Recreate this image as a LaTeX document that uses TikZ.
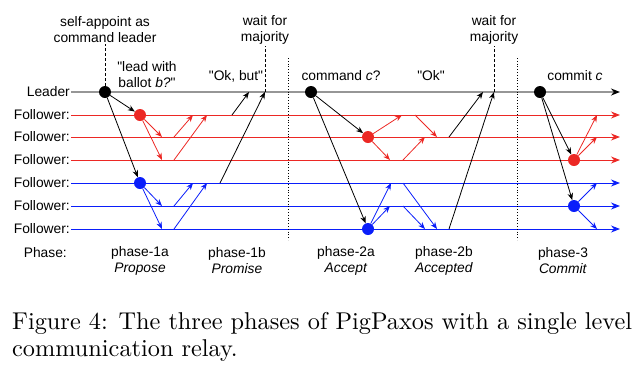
\documentclass[tikz,border=0pt]{standalone}
\usepackage{fontspec}
\newfontfamily\diagfont{Liberation Sans}
\newfontfamily\capfont{lmroman10-regular}[Extension=.otf]
\usetikzlibrary{arrows.meta}
\definecolor{ldrgray}{RGB}{150,150,150}
\definecolor{relred}{RGB}{236,40,36}
\definecolor{relblue}{RGB}{10,30,250}

\begin{document}
\begin{tikzpicture}[x=1pt,y=-1pt,
  font=\diagfont\fontsize{13.8}{16}\selectfont,
  every node/.style={inner sep=1pt},
  lbl/.style={anchor=east},
  txt/.style={align=center},
  dot/.style={circle,fill,inner sep=0pt,minimum size=12pt},
  msg/.style={-{Stealth[length=7pt,width=5.5pt]},line width=0.8pt},
  lane/.style={line width=1pt,-{Stealth[length=9pt,width=7pt]}},
  sep/.style={dotted,line width=0.8pt},
  captext/.style={anchor=base west,font=\capfont\fontsize{24.3}{28}\selectfont}]

\useasboundingbox (0,0) rectangle (640,373);

        \node[lbl] (ld) at (71,92)  {Leader};
        \node[lbl] (f1) at (71,115) {Follower:};
        \node[lbl] (f2) at (71,137) {Follower:};
        \node[lbl] (f3) at (71,160) {Follower:};
        \node[lbl] (f4) at (71,183) {Follower:};
        \node[lbl] (f5) at (71,206) {Follower:};
        \node[lbl] (f6) at (71,229) {Follower:};
        \node[lbl] (ph) at (68,253) {Phase:};

        \coordinate (lde) at (620,92);
        \coordinate (f1e) at (620,115);
        \coordinate (f2e) at (620,137);
        \coordinate (f3e) at (620,160);
        \coordinate (f4e) at (620,183);
        \coordinate (f5e) at (620,206);
        \coordinate (f6e) at (620,229);

        \draw[lane,ldrgray,line width=1.6pt,-{Stealth[length=9pt,width=7pt,black]}] (ld) -- (lde);
        \draw[lane,relred] (f1) -- (f1e);
        \draw[lane,relred] (f2) -- (f2e);
        \draw[lane,relred] (f3) -- (f3e);
        \draw[lane,relblue] (f4) -- (f4e);
        \draw[lane,relblue] (f5) -- (f5e);
        \draw[lane,relblue] (f6) -- (f6e);

        \coordinate (s1t) at (288,58);
        \coordinate (s1b) at (288,240);
        \coordinate (s2t) at (517,58);
        \coordinate (s2b) at (517,240);
        \draw[sep] (s1t) -- (s1b);
        \draw[sep] (s2t) -- (s2b);

        \node[txt] (sa)  at (105,30) {self-appoint as\\command leader};
        \node[txt] (lb)  at (147,75) {"lead with\\ballot \textit{b?}"};
        \node      (ok1) at (236,76) {"Ok, but"};
        \node[txt] (wm1) at (265,30) {wait for\\majority};
        \node      (cc)  at (341,76) {command \textit{c}?};
        \node      (ok2) at (431,76) {"Ok"};
        \node[txt] (wm2) at (494,30) {wait for\\majority};
        \node      (cm)  at (575,76) {commit \textit{c}};

        \node[txt] (p1a) at (140,261) {phase-1a\\\textit{Propose}};
        \node[txt] (p1b) at (237,261) {phase-1b\\\textit{Promise}};
        \node[txt] (p2a) at (346,261) {phase-2a\\\textit{Accept}};
        \node[txt] (p2b) at (444,261) {phase-2b\\\textit{Accepted}};
        \node[txt] (p3)  at (563,261) {phase-3\\\textit{Commit}};

        \node[dot]         (l1) at (105,92)  {};
        \node[dot,relred]  (r1) at (140,115) {};
        \node[dot,relblue] (b1) at (140,183) {};
        \node[dot]         (l2) at (311,92)  {};
        \node[dot,relred]  (r2) at (368,137) {};
        \node[dot,relblue] (b2) at (368,229) {};
        \node[dot]         (l3) at (540,92)  {};
        \node[dot,relred]  (r3) at (574,160) {};
        \node[dot,relblue] (b3) at (574,206) {};

        \coordinate (w1) at (265,92);
        \coordinate (w2) at (494,92);
        \draw[dash pattern=on 3pt off 2pt] (l1) -- (sa);
        \draw[dash pattern=on 3pt off 2pt] (w1) -- (wm1);
        \draw[dash pattern=on 3pt off 2pt] (w2) -- (wm2);

        \coordinate (r1x) at (162,137);
        \coordinate (r1y) at (162,160);
        \coordinate (b1x) at (162,206);
        \coordinate (b1y) at (162,229);
        \draw (l1) edge[msg] (r1);
        \draw (l1) edge[msg] (b1);
        \draw (r1) edge[msg,relred] (r1x);
        \draw (r1) edge[msg,relred] (r1y);
        \draw (b1) edge[msg,relblue] (b1x);
        \draw (b1) edge[msg,relblue] (b1y);

        \coordinate (q1) at (174,137);
        \coordinate (q2) at (174,160);
        \coordinate (q3) at (193,115);
        \coordinate (q4) at (207,115);
        \coordinate (q5) at (174,206);
        \coordinate (q6) at (174,229);
        \coordinate (q7) at (193,183);
        \coordinate (q8) at (207,183);
        \coordinate (q9) at (232,115);
        \coordinate (q10) at (249,92);
        \coordinate (q11) at (220,183);
        \draw (q1) edge[msg,relred] (q3);
        \draw (q2) edge[msg,relred] (q4);
        \draw (q5) edge[msg,relblue] (q7);
        \draw (q6) edge[msg,relblue] (q8);
        \draw (q9) edge[msg] (q10);
        \draw (q11) edge[msg] (w1);

        \coordinate (r2x) at (402,115);
        \coordinate (r2y) at (390,160);
        \coordinate (b2x) at (391,183);
        \coordinate (b2y) at (390,206);
        \draw (l2) edge[msg] (r2);
        \draw (l2) edge[msg] (b2);
        \draw (r2) edge[msg,relred] (r2x);
        \draw (r2) edge[msg,relred] (r2y);
        \draw (b2) edge[msg,relblue] (b2x);
        \draw (b2) edge[msg,relblue] (b2y);

        \coordinate (a1) at (415,115);
        \coordinate (a2) at (437,137);
        \coordinate (a3) at (403,160);
        \coordinate (a4) at (425,137);
        \coordinate (a5) at (449,137);
        \coordinate (a6) at (483,92);
        \coordinate (a7) at (403,183);
        \coordinate (a8) at (437,229);
        \coordinate (a9) at (403,206);
        \coordinate (a10) at (425,229);
        \coordinate (a11) at (449,229);
        \draw (a1) edge[msg,relred] (a2);
        \draw (a3) edge[msg,relred] (a4);
        \draw (a5) edge[msg] (a6);
        \draw (a7) edge[msg,relblue] (a8);
        \draw (a9) edge[msg,relblue] (a10);
        \draw (a11) edge[msg] (w2);

        \coordinate (r3x) at (597,115);
        \coordinate (r3y) at (597,137);
        \coordinate (b3x) at (597,183);
        \coordinate (b3y) at (597,229);
        \draw (l3) edge[msg] (r3);
        \draw (l3) edge[msg] (b3);
        \draw (r3) edge[msg,relred] (r3x);
        \draw (r3) edge[msg,relred] (r3y);
        \draw (b3) edge[msg,relblue] (b3x);
        \draw (b3) edge[msg,relblue] (b3y);

        \node[captext] (cap1) at (11,329) {Figure 4: The three phases of PigPaxos with a single level};
        \node[captext] (cap2) at (11,356) {communication relay.};
      \end{tikzpicture}
\end{document}
